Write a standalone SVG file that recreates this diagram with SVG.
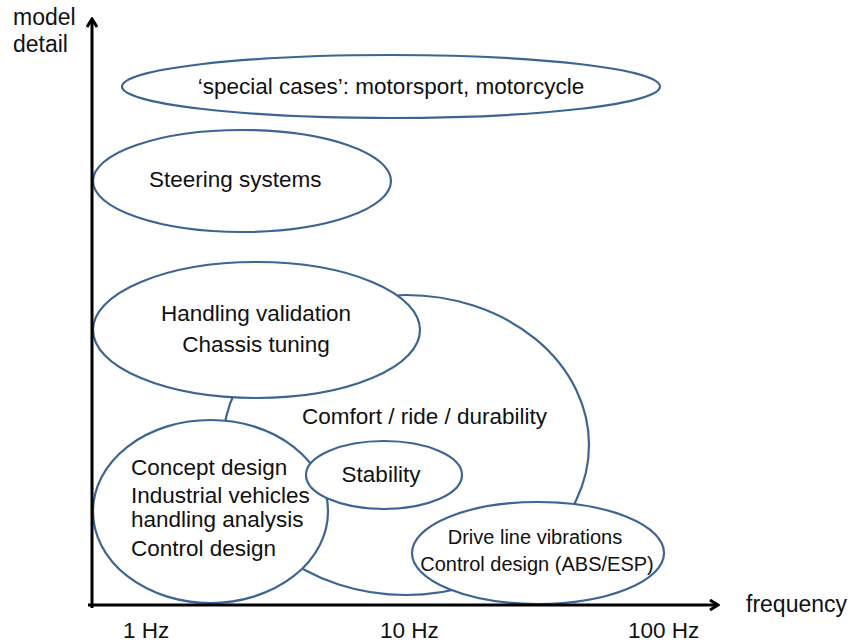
<svg xmlns="http://www.w3.org/2000/svg" width="854" height="643" viewBox="0 0 854 643">
<style>
.n{fill:#fff;stroke:#3d6496;stroke-width:2.2}
.t{font-family:"Liberation Sans",Arial,sans-serif;font-size:22.5px;fill:#111}
.s{font-size:20px}
.a{font-size:23px}
.ax{stroke:#000;stroke-width:3;fill:none}
</style>
<defs>
<marker id="ah" viewBox="0 0 12 12" refX="10" refY="6" markerWidth="12" markerHeight="12" markerUnits="userSpaceOnUse" orient="auto">
<path d="M2,1 L10,6 L2,11" fill="none" stroke="#000" stroke-width="3"/>
</marker>
</defs>
<rect width="854" height="643" fill="#fff"/>
<g id="nodes">
<g id="comfort"><ellipse class="n" cx="406" cy="445" rx="183" ry="150"/></g>
<g id="special"><ellipse class="n" cx="391" cy="86.5" rx="269" ry="31.5"/><text class="t" x="391" y="94" text-anchor="middle">‘special cases’: motorsport, motorcycle</text></g>
<g id="steering"><ellipse class="n" cx="242" cy="181" rx="149" ry="51"/><text class="t" x="149" y="187">Steering systems</text></g>
<g id="handling"><ellipse class="n" cx="256.5" cy="330" rx="163.5" ry="68"/><text class="t" x="256" y="321" text-anchor="middle">Handling validation</text><text class="t" x="256" y="352" text-anchor="middle">Chassis tuning</text></g>
<text class="t" x="302" y="424">Comfort / ride / durability</text>
<g id="concept"><ellipse class="n" cx="210.5" cy="511.5" rx="117.5" ry="91.5"/><text class="t" x="131" y="475">Concept design</text><text class="t" x="131" y="503">Industrial vehicles</text><text class="t" x="131" y="527">handling analysis</text><text class="t" x="131" y="556">Control design</text></g>
<g id="stability"><ellipse class="n" cx="384" cy="475" rx="78" ry="34"/><text class="t" x="381" y="482" text-anchor="middle">Stability</text></g>
<g id="driveline"><ellipse class="n" cx="538" cy="553" rx="126" ry="51"/><text class="t s" x="535" y="544" text-anchor="middle">Drive line vibrations</text><text class="t s" x="537" y="571" text-anchor="middle">Control design (ABS/ESP)</text></g>
</g>
<g id="connectors">
<line class="ax" x1="92" y1="608" x2="92" y2="19" marker-end="url(#ah)"/>
<line class="ax" x1="88" y1="605" x2="718" y2="605" marker-end="url(#ah)"/>
</g>
<g id="labels">
<text class="t a" x="13" y="25">model</text>
<text class="t a" x="13" y="52">detail</text>
<text class="t a" x="746" y="612">frequency</text>
<text class="t" x="123" y="638">1 Hz</text>
<text class="t" x="380" y="638">10 Hz</text>
<text class="t" x="628" y="638">100 Hz</text>
</g>
</svg>
